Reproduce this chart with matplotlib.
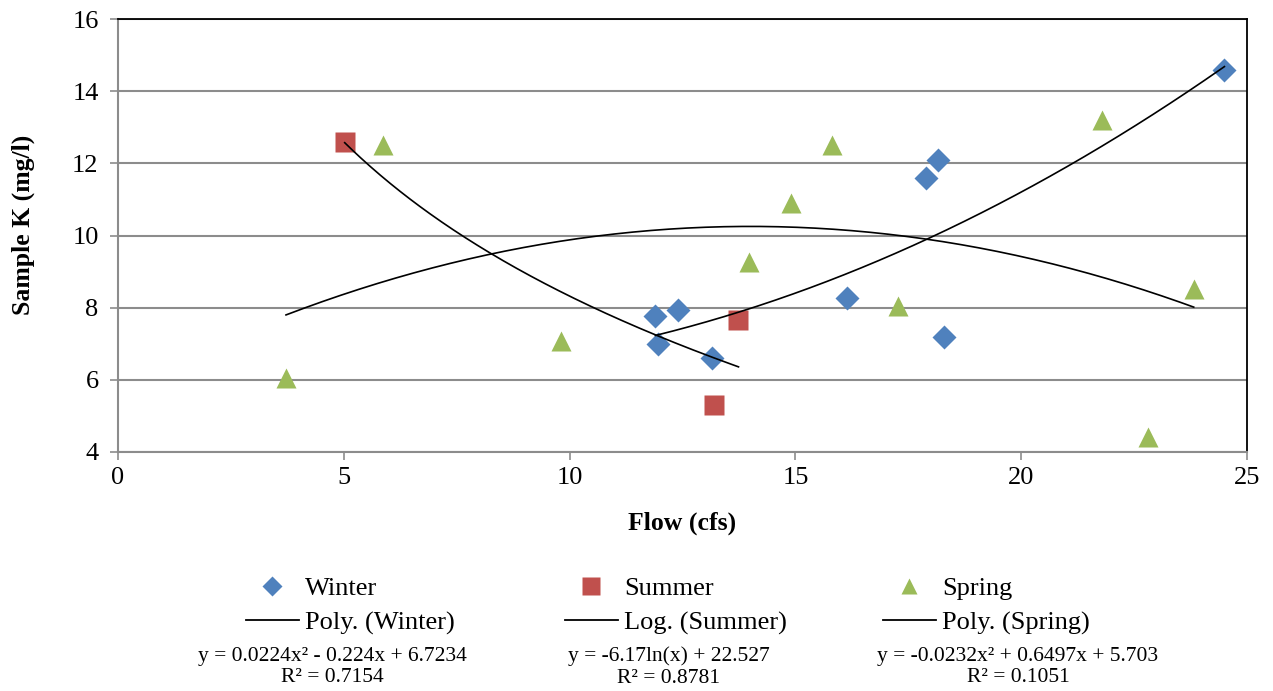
import numpy as np
import matplotlib.pyplot as plt
from matplotlib.lines import Line2D

plt.rcParams['font.family'] = ['Liberation Serif', 'DejaVu Serif']

# donnees
winter_x = [11.9, 11.95, 12.4, 13.15, 16.15, 17.9, 18.15, 18.3, 24.5]
winter_y = [7.78, 7.0, 7.93, 6.6, 8.27, 11.6, 12.1, 7.2, 14.6]
summer_x = [5.02, 13.74, 13.2]
summer_y = [12.6, 7.66, 5.3]
spring_x = [3.72, 5.86, 9.8, 13.97, 14.9, 15.8, 17.27, 21.8, 22.8, 23.82]
spring_y = [6.05, 12.5, 7.08, 9.27, 10.9, 12.5, 8.05, 13.2, 4.42, 8.53]

# courbes de tendance (coefficients affiches sur le graphique)
winter_poly = [0.0224, -0.224, 6.7234]
summer_log = [-6.17, 22.527]
spring_poly = [-0.0232, 0.6497, 5.703]
labels = ['Winter', 'Summer', 'Spring']
trend_labels = ['Poly. (Winter)', 'Log. (Summer)', 'Poly. (Spring)']
equations = ['y = 0.0224x² - 0.224x + 6.7234\nR² = 0.7154',
             'y = -6.17ln(x) + 22.527\nR² = 0.8781',
             'y = -0.0232x² + 0.6497x + 5.703\nR² = 0.1051']
colors = ['#4F81BD', '#C0504D', '#9BBB59']

fig = plt.figure(figsize=(12.73, 6.91), dpi=100)
ax = fig.add_axes([118/1273, 1-452/691, (1247-118)/1273, (452-19)/691])

ax.plot(winter_x, winter_y, 'D', ms=12.5, color=colors[0], mec='none', zorder=3)
ax.plot(summer_x, summer_y, 's', ms=14, color=colors[1], mec='none', zorder=3)
ax.plot(spring_x, spring_y, '^', ms=14, color=colors[2], mec='none', zorder=3)

xw = np.linspace(min(winter_x), max(winter_x), 200)
ax.plot(xw, np.polyval(winter_poly, xw), color='black', lw=1.2, zorder=4)
xs = np.linspace(min(summer_x), max(summer_x), 200)
ax.plot(xs, summer_log[0]*np.log(xs) + summer_log[1], color='black', lw=1.2, zorder=4)
xp = np.linspace(min(spring_x), max(spring_x), 200)
ax.plot(xp, np.polyval(spring_poly, xp), color='black', lw=1.2, zorder=4)

ax.set_xlim(0, 25)
ax.set_ylim(4, 16)
ax.set_xticks(range(0, 26, 5))
ax.set_yticks(range(4, 17, 2))
ax.grid(axis='y', color='#8c8c8c', lw=1.5)
ax.set_axisbelow(True)
for s in ['left', 'bottom']:
    ax.spines[s].set_color('#8c8c8c')
    ax.spines[s].set_linewidth(1.5)
for s in ['top', 'right']:
    ax.spines[s].set_color('black')
    ax.spines[s].set_linewidth(1.3)
ax.tick_params(axis='both', colors='#8c8c8c', width=1.2, length=6, labelsize=19, labelcolor='black')
ax.tick_params(axis='x', pad=5)
ax.tick_params(axis='y', pad=8)
ax.set_xlabel('Flow (cfs)', fontsize=18.5, fontweight='bold')
ax.set_ylabel('Sample K (mg/l)', fontsize=18.5, fontweight='bold')
ax.xaxis.set_label_coords(0.5, (452-523)/433)
ax.yaxis.set_label_coords((23-118)/1129, (452-225)/433)
ax.xaxis.label.set_va('center')
ax.yaxis.label.set_va('center')

# legende en trois colonnes
markers = [('D', 10.5), ('s', 12.5), ('^', 12)]
left_px = [246, 565, 883]
eq_center = [332, 669, 1018]
for i in range(3):
    h1 = Line2D([], [], ls='none', marker=markers[i][0], ms=markers[i][1],
                color=colors[i], mec='none')
    h2 = Line2D([], [], color='black', lw=1.3)
    leg = fig.legend([h1, h2], [labels[i], trend_labels[i]], loc='upper left',
                     bbox_to_anchor=(left_px[i]/1273, 1-577/691), frameon=False,
                     fontsize=19, handlelength=2.0, handletextpad=0.25,
                     labelspacing=0.4, borderpad=0, borderaxespad=0)
    fig.text(eq_center[i]/1273, 1-667/691, equations[i], ha='center', va='center',
             fontsize=15.5, linespacing=1.2)

fig.savefig('out.png', dpi=100)
